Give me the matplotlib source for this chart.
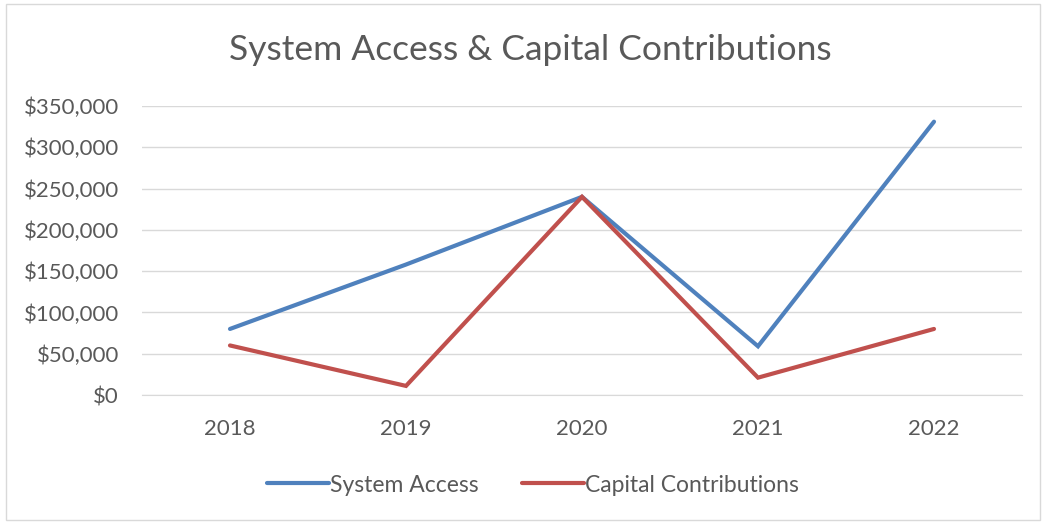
import matplotlib
matplotlib.use("Agg")
import matplotlib.pyplot as plt
from matplotlib.ticker import FuncFormatter
from matplotlib.patches import Rectangle

years = ["2018", "2019", "2020", "2021", "2022"]
system_access = [80000, 158000, 240000, 59000, 331000]
capital_contributions = [60000, 11000, 240000, 21000, 80000]
y_ticks = [0, 50000, 100000, 150000, 200000, 250000, 300000, 350000]

W, H = 1042, 522
fig = plt.figure(figsize=(W / 100, H / 100), dpi=100)
plt.rcParams['font.family'] = ['Lato', 'DejaVu Sans']
txt = '#595959'

ax = fig.add_axes([142 / W, 1 - 395 / H, 880 / W, 289 / H])
x = list(range(len(years)))
ax.plot(x, system_access, color='#4F81BD', lw=3, label='System Access', solid_capstyle='round', solid_joinstyle='miter')
ax.plot(x, capital_contributions, color='#C0504D', lw=3, label='Capital Contributions', solid_capstyle='round', solid_joinstyle='miter')

ax.set_xlim(-0.5, len(years) - 0.5)
ax.set_ylim(0, 350000)
ax.set_yticks(y_ticks)
ax.yaxis.set_major_formatter(FuncFormatter(lambda v, p: f"${int(v):,}"))
ax.set_xticks(x)
ax.set_xticklabels(years)
ax.tick_params(axis='both', length=0, labelsize=16, colors=txt)
ax.tick_params(axis='y', pad=16.5)
ax.tick_params(axis='x', pad=17)
ax.grid(axis='y', color='#D9D9D9', lw=1)
ax.set_axisbelow(True)
for s in ['top', 'right', 'left']:
    ax.spines[s].set_visible(False)
ax.spines['bottom'].set_color('#D9D9D9')

fig.text(530 / W, 1 - 50 / H, 'System Access & Capital Contributions', ha='center', va='center',
         fontsize=25.5, color=txt)

leg = fig.legend(loc='center', bbox_to_anchor=(533 / W, 1 - 485 / H), ncol=2, frameon=False,
                 fontsize=16.5, handlelength=2.7, handletextpad=0.05, columnspacing=1.9,
                 labelcolor=txt)

fig.patches.append(Rectangle((6 / W, 2 / H), (W - 8) / W, (H - 6) / H, transform=fig.transFigure,
                             fill=False, edgecolor='#D9D9D9', lw=1))

fig.savefig('out.png', dpi=100, facecolor='white')
